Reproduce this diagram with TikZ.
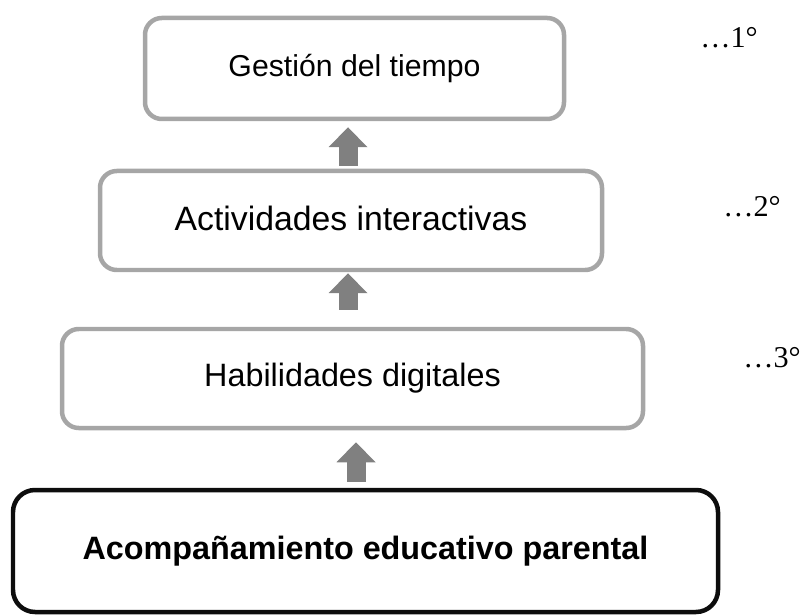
\documentclass[tikz,border=0pt]{standalone}
\usepackage{fontspec}
\setmainfont{Liberation Sans}
\newfontfamily\rangoFont{Liberation Serif}
\usetikzlibrary{arrows.meta}
\definecolor{nivelBorde}{HTML}{A6A6A6}
\definecolor{nivelFlecha}{HTML}{808080}
\definecolor{nivelOscuro}{HTML}{0D0D0D}
\tikzset{
  nivel box/.style={draw=nivelBorde, line width=3.2pt, rounded corners=0.42cm,
    fill=white, inner sep=0pt, font=\fontsize{21.5}{26}\selectfont},
  base box/.style={draw=nivelOscuro, line width=3.2pt, rounded corners=0.55cm,
    fill=white, inner sep=0pt, font=\fontsize{23}{27}\selectfont\bfseries},
  nivel arrow/.style={nivelFlecha, line width=0.475cm, line cap=butt,
    -{Triangle[width=0.975cm, length=0.5cm, line width=0pt]}},
  rango/.style={anchor=base west, inner sep=0pt,
    font=\rangoFont\fontsize{21.5}{26}\selectfont},
}

\begin{document}
\begin{tikzpicture}
  \useasboundingbox (0,0) rectangle (20,15.375);

  % ===== Levels =====
  \node[nivel box, minimum width=10.475cm, minimum height=2.525cm]
    (tiempo) at (8.8625,13.6625) {Gestión del tiempo};
  \node[nivel box, minimum width=12.55cm, minimum height=2.475cm,
    font=\fontsize{24}{28}\selectfont, text depth=0.1cm]
    (actividades) at (8.775,9.8625) {Actividades interactivas};
  \node[nivel box, minimum width=14.525cm, minimum height=2.475cm,
    font=\fontsize{23}{27}\selectfont]
    (habilidades) at (8.8125,5.9125) {Habilidades digitales};

  % Base block
  \node[base box, minimum width=17.625cm, minimum height=3.05cm]
    (acompanamiento) at (9.1375,1.6) {Acompañamiento educativo parental};

  % ===== Arrows between levels =====
  \draw[nivel arrow, shorten <=0.075cm, shorten >=0.15cm]
    ([xshift=-0.075cm]actividades.north) -- ([xshift=-0.075cm]actividades.north |- tiempo.south);
  \draw[nivel arrow, shorten <=0.425cm, shorten >=0.025cm]
    ([xshift=-0.1125cm]habilidades.north) -- ([xshift=-0.1125cm]habilidades.north |- actividades.south);
  \draw[nivel arrow, shorten <=0.15cm, shorten >=0.3cm]
    ([xshift=-0.2375cm]acompanamiento.north) -- ([xshift=-0.2375cm]acompanamiento.north |- habilidades.south);

  % ===== Order labels =====
  \node[rango] (orden1) at (17.5,14.175) {…1°};
  \node[rango] (orden2) at (18.075,9.95) {…2°};
  \node[rango] (orden3) at (18.575,6.2) {…3°};
\end{tikzpicture}
\end{document}
